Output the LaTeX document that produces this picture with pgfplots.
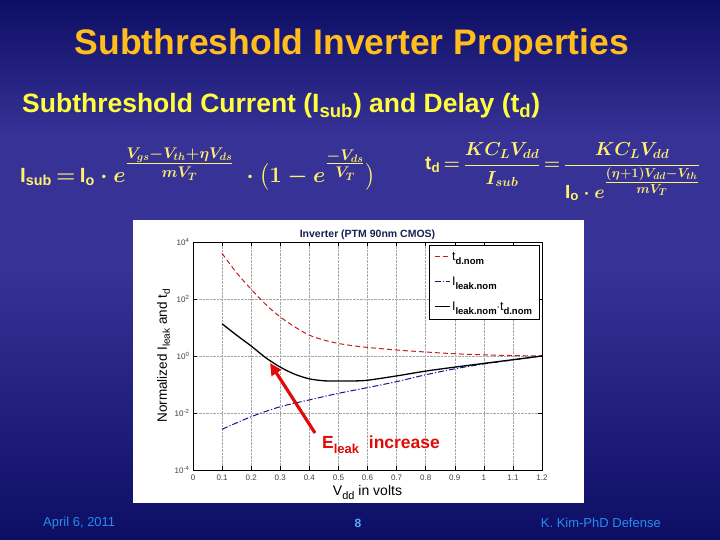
\documentclass[border=0pt]{standalone}
\usepackage{amsmath}
\usepackage{graphicx}
\usepackage{pgfplots}
\pgfplotsset{compat=1.18}
\usepackage{fontspec}
\setmainfont{Liberation Sans}
\usetikzlibrary{arrows.meta}
\definecolor{titleyel}{RGB}{255,190,30}
\definecolor{subyel}{RGB}{255,255,60}
\definecolor{formyel}{RGB}{255,240,110}
\definecolor{foot}{RGB}{40,140,240}
\definecolor{footeight}{RGB}{90,170,255}
\definecolor{bgdark}{RGB}{12,14,100}
\definecolor{bgmid}{RGB}{55,50,150}
\definecolor{tdred}{RGB}{200,30,30}
\definecolor{ilblue}{RGB}{20,20,150}
\definecolor{ptitle}{RGB}{20,35,80}
\definecolor{arrowred}{RGB}{225,10,10}
\newcommand{\lsub}[2][9.5]{\raisebox{-4.5pt}{\fontsize{#1}{#1}\selectfont\bfseries #2}}
\newcommand{\formA}{$\textbf{I}_{\textbf{sub}}\,\mathbf{=}\,\textbf{I}_{\textbf{o}}\cdot e^{\raisebox{5pt}{$\frac{V_{gs}-V_{th}+\eta V_{ds}}{mV_T}$}}\;\cdot\bigl(1-e^{\raisebox{5pt}{$\frac{-V_{ds}}{V_T}$}}\bigr)$}
\newcommand{\formB}{$\textbf{t}_{\textbf{d}}\,\mathbf{=}\,\dfrac{KC_LV_{dd}}{I_{sub}}\,\mathbf{=}\,\dfrac{KC_LV_{dd}}{\textbf{I}_{\textbf{o}}\cdot e^{\raisebox{3pt}{$\frac{(\eta+1)V_{dd}-V_{th}}{mV_T}$}}}$}
\begin{document}
\begin{tikzpicture}[x=1pt,y=1pt]
\useasboundingbox (0,0) rectangle (720,540);
\clip (0,0) rectangle (720,540);
% background
\shade[top color=bgdark, bottom color=bgmid, middle color=bgmid] (0,270) rectangle (720,540);
\shade[top color=bgmid, bottom color=bgdark] (0,0) rectangle (720,270);
% titles
\node[anchor=center, text=titleyel, font=\fontsize{35.5}{40}\selectfont\bfseries] at (352,495) {Subthreshold Inverter Properties};
\node[anchor=west, text=subyel, font=\fontsize{26.5}{30}\selectfont\bfseries, inner sep=0pt] at (22,434) {Subthreshold Current (I\textsubscript{sub}) and Delay (t\textsubscript{d})};
% formulas
\node[anchor=west, text=formyel, inner sep=0pt, font=\fontsize{23}{26}\selectfont\boldmath] at (20,371) {\resizebox{355pt}{!}{\formA}};
\node[anchor=west, text=formyel, inner sep=0pt, font=\fontsize{21}{24}\selectfont\boldmath] at (425,368) {\resizebox{275pt}{!}{\formB}};
% white panel
\fill[white] (133,37) rectangle (584,320);
\begin{axis}[
  at={(193pt,70pt)}, anchor=south west,
  scale only axis, width=349pt, height=228pt,
  xmin=0, xmax=1.2, ymode=log, ymin=1e-4, ymax=1e4,
  xtick={0,0.1,0.2,0.3,0.4,0.5,0.6,0.7,0.8,0.9,1,1.1,1.2},
  xticklabels={0,0.1,0.2,0.3,0.4,0.5,0.6,0.7,0.8,0.9,1,1.1,1.2},
  ytick={1e-4,1e-2,1,1e2,1e4},
  yticklabels={10\textsuperscript{-4},10\textsuperscript{-2},10\textsuperscript{0},10\textsuperscript{2},10\textsuperscript{4}},
  minor ytick={}, yminorticks=false,
  grid=major, grid style={densely dotted, gray!70},
  tick align=inside, tick style={black, thin},
  axis line style={black, thin},
  tick label style={font=\fontsize{8}{9}\selectfont, text=black!75},
  xticklabel style={yshift=-1pt},
  title={\bfseries Inverter (PTM 90nm CMOS)},
  title style={font=\fontsize{10.5}{12}\selectfont, text=ptitle, yshift=-7pt},
  xlabel={V\raisebox{-4pt}{\fontsize{11}{12}\selectfont dd} in volts},
  xlabel style={font=\fontsize{14}{15}\selectfont, yshift=2pt},
  ylabel={Normalized I\raisebox{-3pt}{\fontsize{10}{11}\selectfont leak} and t\raisebox{-3pt}{\fontsize{10}{11}\selectfont d}},
  ylabel style={font=\fontsize{13.5}{15}\selectfont, yshift=-2pt},
  legend style={at={(0.992,0.988)}, anchor=north east, draw=black, fill=white,
    font=\fontsize{12.5}{14}\selectfont, row sep=11pt, inner sep=5pt, cells={anchor=west}},
  legend image post style={xscale=0.85},
  legend cell align=left,
]
\addplot[tdred, line width=1pt, dash pattern=on 5pt off 3pt, smooth] coordinates {
 (0.1,3981) (0.15,832) (0.2,219) (0.25,64.6) (0.3,23.4) (0.35,10.5) (0.4,5.37)
 (0.45,3.63) (0.5,2.75) (0.55,2.29) (0.6,2.0) (0.7,1.62) (0.8,1.38) (0.9,1.20)
 (1.0,1.10) (1.1,1.035) (1.2,1.0)};
\addlegendentry{t\lsub{d.nom}}
\addplot[ilblue, line width=1pt, dash pattern=on 6pt off 2pt on 1.2pt off 2pt, smooth] coordinates {
 (0.1,0.00269) (0.2,0.00741) (0.3,0.0166) (0.4,0.0288) (0.5,0.049) (0.6,0.0776)
 (0.7,0.126) (0.8,0.219) (0.9,0.355) (1.0,0.525) (1.1,0.724) (1.2,1.0)};
\addlegendentry{I\lsub{leak.nom}}
\addplot[black, line width=1.3pt, smooth] coordinates {
 (0.1,13.5) (0.15,5.37) (0.2,2.24) (0.25,0.871) (0.3,0.407) (0.35,0.229) (0.4,0.158)
 (0.45,0.135) (0.5,0.132) (0.55,0.133) (0.6,0.141) (0.7,0.2) (0.8,0.295) (0.9,0.407)
 (1.0,0.55) (1.1,0.741) (1.2,1.0)};
\addlegendentry{I\lsub{leak.nom}$\cdot$t\lsub{d.nom}}
\end{axis}
% annotation
\draw[arrowred, line width=3.2pt, -{Triangle[length=12pt,width=11pt]}] (315,107) -- (270,177);
\node[anchor=base west, text=arrowred, inner sep=0pt, font=\fontsize{17.5}{20}\selectfont\bfseries] at (322,91)
 {E\raisebox{-5pt}{\fontsize{13}{14}\selectfont leak}\ \ increase};
% footer
\node[anchor=west, text=foot, font=\fontsize{13}{15}\selectfont, inner sep=0pt] at (43,17) {April 6, 2011};
\node[text=footeight, font=\fontsize{12}{13}\selectfont\bfseries, inner sep=0pt] at (358,17) {8};
\node[anchor=east, text=foot, font=\fontsize{13}{15}\selectfont, inner sep=0pt] at (661,17) {K. Kim-PhD Defense};
\end{tikzpicture}
\end{document}
